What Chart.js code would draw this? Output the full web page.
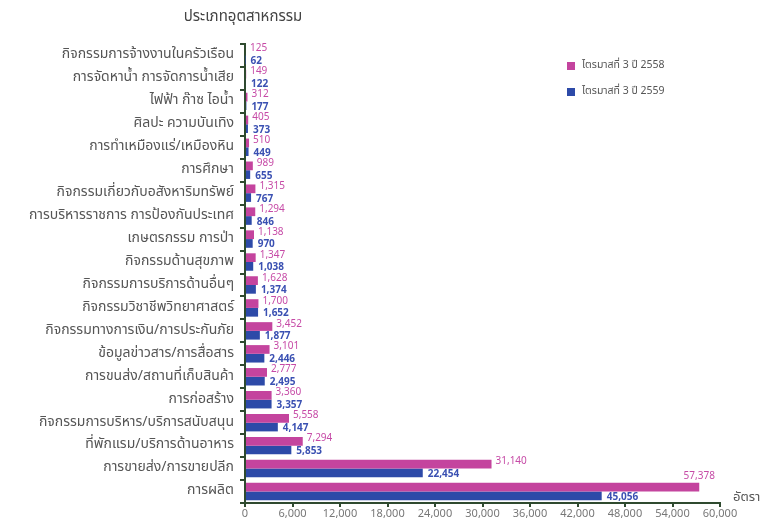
<!DOCTYPE html>
<html>
<head>
<meta charset="utf-8">
<script src="https://cdn.jsdelivr.net/npm/chart.js@4.4.0/dist/chart.umd.min.js"></script>
<style>
  html, body { margin: 0; padding: 0; background: #fff; }
  #wrap { width: 762px; height: 524px; position: relative; }
</style>
</head>
<body>
<div id="wrap"><canvas id="industryChart" width="762" height="524"></canvas></div>
<script>
const categories = [
    'กิจกรรมการจ้างงานในครัวเรือน',
    'การจัดหาน้ำ การจัดการน้ำเสีย',
    'ไฟฟ้า ก๊าซ ไอน้ำ',
    'ศิลปะ ความบันเทิง',
    'การทำเหมืองแร่/เหมืองหิน',
    'การศึกษา',
    'กิจกรรมเกี่ยวกับอสังหาริมทรัพย์',
    'การบริหารราชการ การป้องกันประเทศ',
    'เกษตรกรรม การป่า',
    'กิจกรรมด้านสุขภาพ',
    'กิจกรรมการบริการด้านอื่นๆ',
    'กิจกรรมวิชาชีพวิทยาศาสตร์',
    'กิจกรรมทางการเงิน/การประกันภัย',
    'ข้อมูลข่าวสาร/การสื่อสาร',
    'การขนส่ง/สถานที่เก็บสินค้า',
    'การก่อสร้าง',
    'กิจกรรมการบริหาร/บริการสนับสนุน',
    'ที่พักแรม/บริการด้านอาหาร',
    'การขายส่ง/การขายปลีก',
    'การผลิต'
];
const q3Y2558 = [125, 149, 312, 405, 510, 989, 1315, 1294, 1138, 1347, 1628, 1700, 3452, 3101, 2777, 3360, 5558, 7294, 31140, 57378];
const q3Y2559 = [62, 122, 177, 373, 449, 655, 767, 846, 970, 1038, 1374, 1652, 1877, 2446, 2495, 3357, 4147, 5853, 22454, 45056];
const seriesNames = ['ไตรมาสที่ 3 ปี 2558', 'ไตรมาสที่ 3 ปี 2559'];
const xTicks = [0, 6000, 12000, 18000, 24000, 30000, 36000, 42000, 48000, 54000, 60000];

const MAGENTA = '#c4449e';
const BLUE = '#2d4aa8';
const AXIS = '#2f4a2f';
const THAI_FONT = "Tahoma, 'Noto Sans Thai', 'Noto Sans', 'DejaVu Sans', sans-serif";

// draws title, legend, axis name, category tick marks and value labels
const decorations = {
    id: 'decorations',
    afterDatasetsDraw(chart) {
        const ctx = chart.ctx;
        const yScale = chart.scales.y;
        const area = chart.chartArea;
        ctx.save();

        // tick marks between categories on the y axis
        ctx.strokeStyle = AXIS;
        ctx.lineWidth = 2;
        const step = (area.bottom - area.top) / categories.length;
        for (let i = 0; i <= categories.length; i++) {
            const y = Math.round(yScale.getPixelForValue(i) - step / 2);
            ctx.beginPath();
            ctx.moveTo(area.left - 5, y);
            ctx.lineTo(area.left, y);
            ctx.stroke();
        }

        ctx.textBaseline = 'middle';
        // value labels
        chart.data.datasets.forEach((ds, di) => {
            const meta = chart.getDatasetMeta(di);
            meta.data.forEach((bar, i) => {
                const txt = ds.data[i].toLocaleString('en-US');
                if (di === 0) {
                    ctx.font = '10px ' + THAI_FONT;
                    ctx.fillStyle = '#c64aa6';
                    // the longest bar gets its label above the bar end
                    if (bar.x + 40 > area.right) {
                        ctx.textAlign = 'center';
                        ctx.fillText(txt, bar.x, bar.y - 10);
                        ctx.textAlign = 'left';
                    } else {
                        ctx.fillText(txt, bar.x + 4, bar.y - 2);
                    }
                } else {
                    ctx.font = 'bold 10px ' + THAI_FONT;
                    ctx.fillStyle = '#3a50b2';
                    ctx.fillText(txt, bar.x + 5, bar.y + 2);
                }
            });
        });

        // title
        ctx.font = '15px ' + THAI_FONT;
        ctx.fillStyle = '#444';
        ctx.textAlign = 'center';
        ctx.fillText('ประเภทอุตสาหกรรม', 243, 18);

        // legend
        ctx.textAlign = 'left';
        const colors = [MAGENTA, BLUE];
        seriesNames.forEach((name, k) => {
            const y = 66 + k * 26;
            ctx.fillStyle = colors[k];
            ctx.fillRect(567, y - 4, 8, 8);
            ctx.fillStyle = '#555';
            ctx.font = '10.5px ' + THAI_FONT;
            ctx.fillText(name, 582, y);
        });

        // axis name
        ctx.fillStyle = '#555';
        ctx.font = '13px ' + THAI_FONT;
        ctx.fillText('อัตรา', 733, 498);
        ctx.restore();
    }
};

new Chart(document.getElementById('industryChart'), {
    type: 'bar',
    data: {
        labels: categories,
        datasets: [{
            label: seriesNames[0],
            data: q3Y2558,
            backgroundColor: MAGENTA,
            categoryPercentage: 0.76,
            barPercentage: 1.0
        }, {
            label: seriesNames[1],
            data: q3Y2559,
            backgroundColor: BLUE,
            categoryPercentage: 0.76,
            barPercentage: 1.0
        }]
    },
    options: {
        indexAxis: 'y',
        responsive: false,
        animation: false,
        layout: { padding: { top: 44, right: 42, left: 0, bottom: 0 } },
        plugins: {
            legend: { display: false },
            tooltip: { enabled: false }
        },
        scales: {
            x: {
                min: 0,
                max: 60000,
                afterBuildTicks: axis => { axis.ticks = xTicks.map(v => ({ value: v })); },
                afterFit: axis => { axis.height = 21; },
                border: { color: AXIS, width: 2 },
                grid: { drawOnChartArea: false, color: AXIS, tickColor: AXIS, lineWidth: 2, tickLength: 4 },
                ticks: {
                    color: '#777',
                    font: { size: 11, family: THAI_FONT },
                    padding: 1,
                    maxRotation: 0,
                    autoSkip: false,
                    callback: v => v.toLocaleString('en-US')
                }
            },
            y: {
                afterFit: axis => { axis.width = 245; },
                border: { color: AXIS, width: 2 },
                grid: { drawOnChartArea: false, color: AXIS, tickColor: AXIS, lineWidth: 2, tickLength: 5, offset: true },
                ticks: {
                    color: '#555',
                    font: { size: 14, family: THAI_FONT },
                    padding: 6,
                    autoSkip: false
                }
            }
        }
    },
    plugins: [decorations]
});
</script>
</body>
</html>
